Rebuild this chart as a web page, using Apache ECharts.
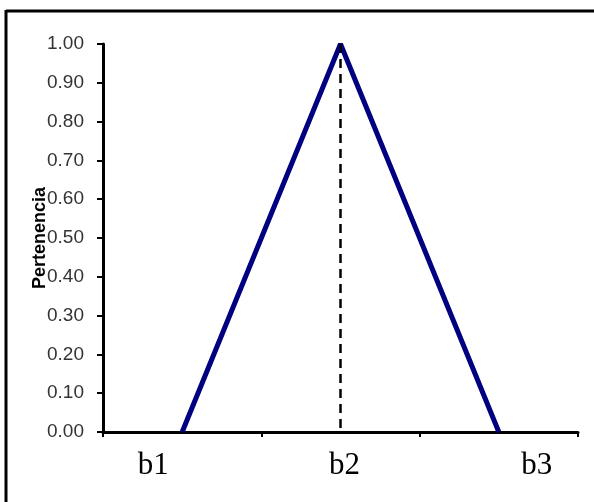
<!DOCTYPE html>
<html>
<head>
<meta charset="utf-8">
<script src="https://cdn.jsdelivr.net/npm/echarts@6/dist/echarts.min.js"></script>
<style>
html,body{margin:0;padding:0;background:#fff;}
#c{width:594px;height:502px;}
</style>
</head>
<body>
<div id="c"></div>
<script>
var categories = ['b1', 'b2', 'b3'];
var membership = [0, 1, 0];
var peakCategory = 'b2';
var yMin = 0, yMax = 1, yStep = 0.1;
var yName = 'Pertenencia';

var chart = echarts.init(document.getElementById('c'), null, {renderer: 'canvas'});
chart.setOption({
  animation: false,
  backgroundColor: '#fff',
  graphic: [
    {type: 'line', shape: {x1: 6, y1: 11, x2: 594, y2: 11}, style: {stroke: '#000', lineWidth: 3}},
    {type: 'line', shape: {x1: 6, y1: 10, x2: 6, y2: 502}, style: {stroke: '#000', lineWidth: 3}}
  ],
  grid: {left: 103, right: 16, top: 44, bottom: 70, containLabel: false},
  xAxis: {
    type: 'category',
    data: categories,
    boundaryGap: true,
    axisLine: {lineStyle: {color: '#000', width: 3}},
    axisTick: {show: true, inside: false, length: 5, lineStyle: {color: '#000', width: 2}},
    axisLabel: {
      margin: 18,
      fontFamily: '"Liberation Serif", "Times New Roman", serif',
      fontSize: 31,
      color: '#000',
      formatter: function (v) { return '{' + v + '|' + v + '}'; },
      rich: {
        b1: {fontFamily: '"Liberation Serif", serif', fontSize: 31, color: '#000', padding: [0, 58, 0, 0]},
        b2: {fontFamily: '"Liberation Serif", serif', fontSize: 31, color: '#000', padding: [0, 0, 0, 8]},
        b3: {fontFamily: '"Liberation Serif", serif', fontSize: 31, color: '#000', padding: [0, 0, 0, 76]}
      }
    },
    splitLine: {show: false}
  },
  yAxis: {
    type: 'value',
    min: yMin,
    max: yMax,
    interval: yStep,
    name: yName,
    nameLocation: 'middle',
    nameGap: 54,
    nameRotate: 90,
    nameMoveOverlap: false,
    nameTextStyle: {fontFamily: '"Liberation Sans", Arial, sans-serif', fontSize: 18, fontWeight: 'bold', color: '#000'},
    axisLine: {show: true, lineStyle: {color: '#000', width: 3}},
    axisTick: {show: true, inside: false, length: 6, lineStyle: {color: '#000', width: 2}},
    axisLabel: {
      margin: 19,
      fontFamily: '"Liberation Sans", Arial, sans-serif',
      fontSize: 19,
      color: '#333',
      formatter: function (v) { return v.toFixed(2); }
    },
    splitLine: {show: false}
  },
  series: [{
    type: 'line',
    data: membership,
    symbol: 'none',
    lineStyle: {color: '#000080', width: 5},
    markLine: {
      silent: true,
      symbol: ['none', 'none'],
      label: {show: false},
      lineStyle: {color: '#000', width: 2.5, type: [9, 6]},
      data: [[{coord: [peakCategory, yMax]}, {coord: [peakCategory, yMin]}]]
    }
  }]
});
</script>
</body>
</html>
